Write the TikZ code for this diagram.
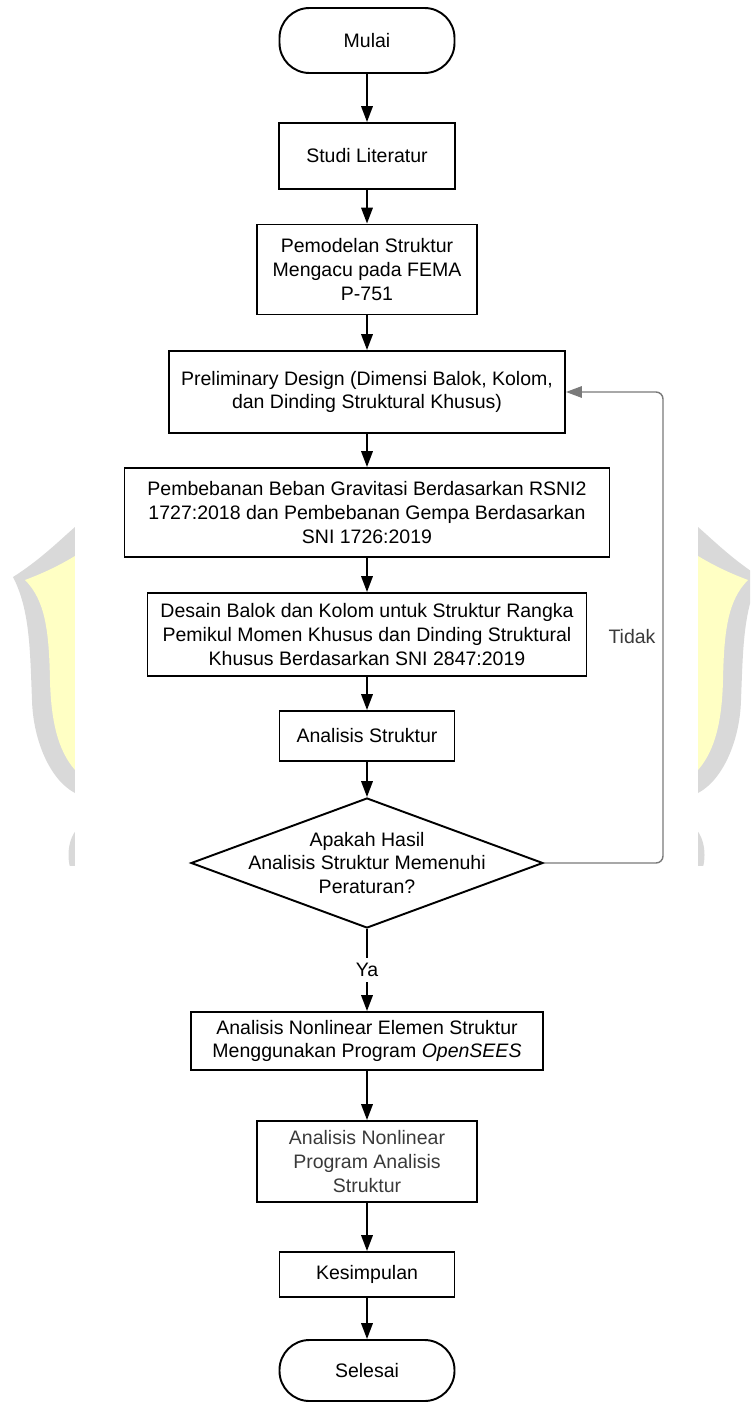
\documentclass[tikz,border=0pt]{standalone}
\usepackage{fontspec}
\setmainfont{Liberation Sans}
\usetikzlibrary{arrows.meta, shapes.geometric, calc}
\definecolor{wmkuning}{HTML}{FFFFC4}
\definecolor{wmabu}{HTML}{D9D9D9}
\definecolor{garisbalik}{HTML}{7A7A7A}
\definecolor{teksabu}{HTML}{3A3A3A}

\begin{document}
\begin{tikzpicture}[>={Triangle[length=9pt,width=6.5pt]}, line join=miter,
	font=\fontsize{11.1}{13.4}\selectfont,
	term/.style={draw, line width=1.1pt, rounded corners=0.6cm, minimum width=3.5cm, align=center},
	proses/.style={draw, line width=1.1pt, align=center, inner sep=2pt},
	keputusan/.style={draw, line width=1.1pt, shape=diamond, inner sep=0pt,
		minimum width=7.04cm, minimum height=2.6cm},
	panah/.style={->, line width=1.1pt},
	balikpanah/.style={-{Triangle[length=9pt,width=6.5pt]}, line width=0.8pt, draw=garisbalik, rounded corners=4pt}]
	
	\useasboundingbox (0,0) rectangle (15,-28.06);
	
	%========================
	% watermark (behind the chart)
	%========================
	\begin{scope}
		\clip (0,-10.3) rectangle (15,-17.3);
		\foreach \cermin in {1,-1}{
			\begin{scope}[xshift={(1-\cermin)*7.73cm}, xscale=\cermin]
				\fill[wmabu] (0.26,-11.54) .. controls (0.8,-11.2) and (1.2,-10.8) .. (1.5,-10.54)
					-- (2.4,-10.54) -- (2.4,-15.86) -- (1.5,-15.86)
					.. controls (1.0,-15.6) and (0.66,-14.8) .. (0.64,-14.0)
					.. controls (0.6,-13.0) and (0.6,-12.2) .. cycle;
				\fill[wmkuning] (0.5,-11.6) .. controls (0.9,-11.45) and (1.2,-11.3) .. (1.5,-11.12)
					-- (2.4,-11.12) -- (2.4,-15.4) -- (1.5,-15.4)
					.. controls (1.15,-15.0) and (1.02,-14.4) .. (1.0,-13.6)
					.. controls (0.98,-12.6) and (0.9,-12.0) .. cycle;
				\fill[wmabu] (1.75,-17.1) ellipse (0.38 and 0.62);
			\end{scope}
		}
	\end{scope}
	\fill[white] (1.5,-10.2) rectangle (13.96,-17.4);
	
	%========================
	% main flow
	%========================
	\node[term, minimum height=1.3cm] (mulai) at (7.34,-0.81) {Mulai};
	\node[proses, minimum width=3.52cm, minimum height=1.32cm] (studi) at (7.34,-3.12) {Studi Literatur};
	\node[proses, minimum width=4.4cm, minimum height=1.8cm] (pemodelan) at (7.34,-5.39)
		{Pemodelan Struktur\\Mengacu pada FEMA\\P-751};
	\node[proses, minimum width=7.92cm, minimum height=1.64cm] (prelim) at (7.34,-7.84)
		{Preliminary Design (Dimensi Balok, Kolom,\\dan Dinding Struktural Khusus)};
	\node[proses, minimum width=9.7cm, minimum height=1.78cm] (beban) at (7.34,-10.25)
		{Pembebanan Beban Gravitasi Berdasarkan RSNI2\\1727:2018 dan Pembebanan Gempa Berdasarkan\\SNI 1726:2019};
	\node[proses, minimum width=8.78cm, minimum height=1.66cm] (desain) at (7.34,-12.69)
		{Desain Balok dan Kolom untuk Struktur Rangka\\Pemikul Momen Khusus dan Dinding Struktural\\Khusus Berdasarkan SNI 2847:2019};
	\node[proses, minimum width=3.5cm, minimum height=1.0cm] (analisis) at (7.34,-14.72) {Analisis Struktur};
	\node[keputusan] (cek) at (7.34,-17.26) {};
	\node[align=center] (cekteks) at (cek.center)
		{Apakah Hasil\\Analisis Struktur Memenuhi\\Peraturan?};
	\node[proses, minimum width=7.04cm, minimum height=1.16cm] (nonlin) at (7.34,-20.82)
		{Analisis Nonlinear Elemen Struktur\\Menggunakan Program \textit{OpenSEES}};
	\node[proses, text=teksabu, minimum width=4.4cm, minimum height=1.62cm] (program) at (7.34,-23.23)
		{Analisis Nonlinear\\Program Analisis\\Struktur};
	\node[proses, minimum width=3.5cm, minimum height=0.9cm] (kesimpulan) at (7.34,-25.49) {Kesimpulan};
	\node[term, minimum height=1.22cm] (selesai) at (7.34,-27.41) {Selesai};
	
	% arrows
	\draw[panah] (mulai) -- (studi);
	\draw[panah] (studi) -- (pemodelan);
	\draw[panah] (pemodelan) -- (prelim);
	\draw[panah] (prelim) -- (beban);
	\draw[panah] (beban) -- (desain);
	\draw[panah] (desain) -- (analisis);
	\draw[panah] (analisis) -- (cek);
	\draw[panah] (cek) -- node[fill=white, inner sep=3pt] (ya) {Ya} (nonlin);
	\draw[panah] (nonlin) -- (program);
	\draw[panah] (program) -- (kesimpulan);
	\draw[panah] (kesimpulan) -- (selesai);
	
	% back to preliminary design
	\coordinate (balik) at (13.26,-17.26);
	\draw[balikpanah] (cek.east) -- (balik) |- (prelim.east);
	\node[text=teksabu] (tidak) at (12.64,-12.74) {Tidak};
	
\end{tikzpicture}
\end{document}
